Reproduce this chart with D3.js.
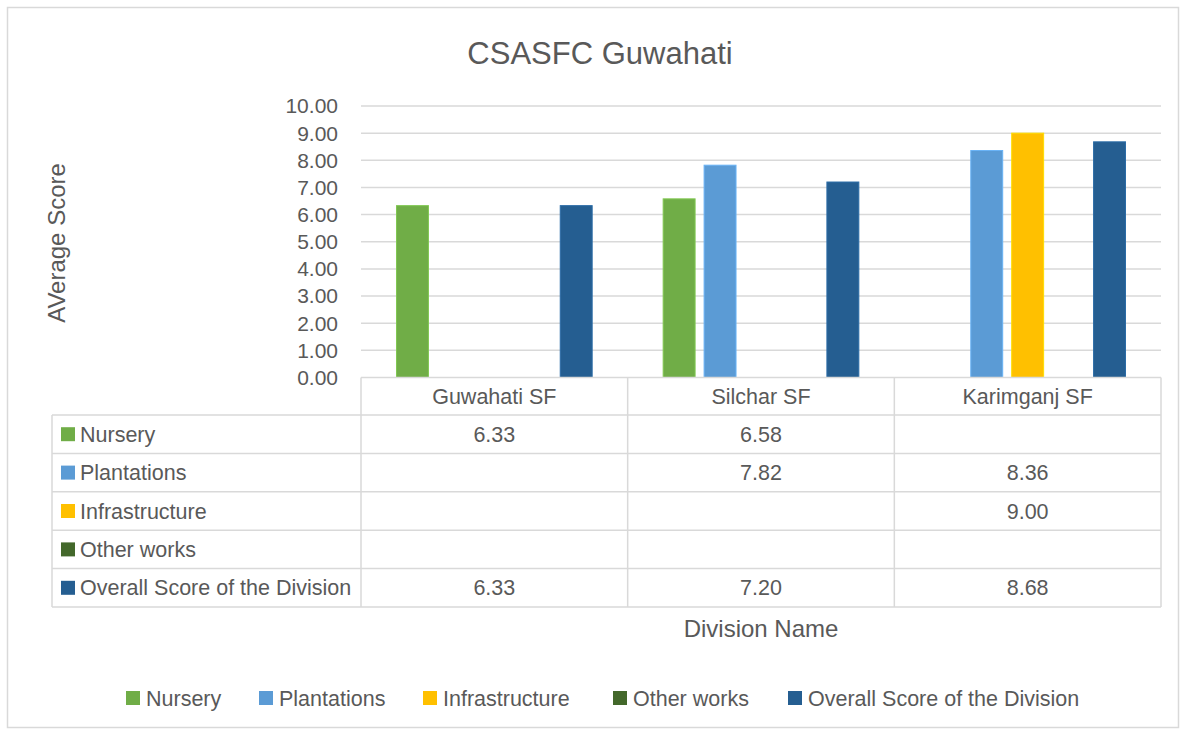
<!DOCTYPE html>
<html>
<head>
<meta charset="utf-8">
<script src="https://cdn.jsdelivr.net/npm/d3@7"></script>
<style>
  body { margin: 0; background: #fff; }
  svg text { font-family: "Liberation Sans", Arial, sans-serif; fill: #595959; }
</style>
</head>
<body>
<svg id="chart"></svg>
<script>
var divisions = ['Guwahati SF', 'Silchar SF', 'Karimganj SF'];
var seriesNames = ['Nursery', 'Plantations', 'Infrastructure', 'Other works', 'Overall Score of the Division'];
var seriesColors = ['#70AD47', '#5B9BD5', '#FFC000', '#43682B', '#255E91'];
var nursery = [6.33, 6.58, null];
var plantations = [null, 7.82, 8.36];
var infrastructure = [null, null, 9.00];
var otherWorks = [null, null, null];
var overall = [6.33, 7.20, 8.68];
var yTicks = [0, 1, 2, 3, 4, 5, 6, 7, 8, 9, 10];

var seriesValues = [nursery, plantations, infrastructure, otherWorks, overall];

var width = 1186;
var height = 734;
var labelSize = '21.5px';

var svg = d3.select('#chart')
  .attr('width', width)
  .attr('height', height);

// outer chart border
svg.append('rect')
  .attr('x', 7.5).attr('y', 7.5)
  .attr('width', 1171).attr('height', 720)
  .attr('fill', '#fff')
  .attr('stroke', '#D9D9D9')
  .attr('stroke-width', 1.5);

var plotLeft = 361, plotRight = 1161;
var plotTop = 106, plotBottom = 377.5;

var xScale = d3.scaleBand()
  .domain(divisions)
  .range([plotLeft, plotRight]);

var seriesScale = d3.scaleBand()
  .domain(seriesNames)
  .range([35.5, xScale.bandwidth() - 35.5])
  .paddingInner(0.22);

var yScale = d3.scaleLinear()
  .domain([0, 10])
  .range([plotBottom, plotTop]);

// title
svg.append('text')
  .attr('x', 600).attr('y', 64)
  .attr('text-anchor', 'middle')
  .style('font-size', '31px')
  .text('CSASFC Guwahati');

// gridlines
svg.append('g')
  .selectAll('line')
  .data(yTicks.slice(1))
  .enter().append('line')
    .attr('x1', plotLeft).attr('x2', plotRight)
    .attr('y1', function(d) { return yScale(d); })
    .attr('y2', function(d) { return yScale(d); })
    .attr('stroke', '#D9D9D9')
    .attr('stroke-width', 1.5);

// y tick labels
svg.append('g')
  .selectAll('text')
  .data(yTicks)
  .enter().append('text')
    .attr('x', 338)
    .attr('y', function(d) { return yScale(d); })
    .attr('dy', '0.35em')
    .attr('text-anchor', 'end')
    .style('font-size', '21px')
    .text(function(d) { return d3.format('.2f')(d); });

// bars
var barData = [];
for (var s = 0; s < seriesNames.length; s++) {
  for (var c = 0; c < divisions.length; c++) {
    if (seriesValues[s][c] != null) {
      barData.push({ division: divisions[c], series: seriesNames[s], value: seriesValues[s][c], color: seriesColors[s] });
    }
  }
}

svg.append('g')
  .selectAll('rect')
  .data(barData)
  .enter().append('rect')
    .attr('x', function(d) { return xScale(d.division) + seriesScale(d.series); })
    .attr('y', function(d) { return yScale(d.value); })
    .attr('width', seriesScale.bandwidth())
    .attr('height', function(d) { return plotBottom - yScale(d.value); })
    .attr('fill', function(d) { return d.color; })
    .attr('stroke', function(d) { return d3.color(d.color).brighter(0.4); })
    .attr('stroke-width', 1);

// data table
var tableLeft = 52;
var headerTop = plotBottom;
var rowTop = 415;
var rowH = 38.4;
var tableBottom = rowTop + rowH * seriesNames.length;
var grid = svg.append('g')
  .attr('stroke', '#D9D9D9')
  .attr('stroke-width', 1.5);

// header row line
grid.append('line').attr('x1', plotLeft).attr('x2', plotRight).attr('y1', headerTop).attr('y2', headerTop);
// row lines
for (var r = 0; r <= seriesNames.length; r++) {
  var yy = rowTop + r * rowH;
  grid.append('line').attr('x1', tableLeft).attr('x2', plotRight).attr('y1', yy).attr('y2', yy);
}
// vertical lines
grid.append('line').attr('x1', tableLeft).attr('x2', tableLeft).attr('y1', rowTop).attr('y2', tableBottom);
var colEdges = divisions.map(function(d) { return xScale(d); }).concat([plotRight]);
colEdges.forEach(function(x) {
  grid.append('line').attr('x1', x).attr('x2', x).attr('y1', headerTop).attr('y2', tableBottom);
});

// header labels
svg.append('g')
  .selectAll('text')
  .data(divisions)
  .enter().append('text')
    .attr('x', function(d) { return xScale(d) + xScale.bandwidth() / 2; })
    .attr('y', headerTop + rowH / 2)
    .attr('dy', '0.35em')
    .attr('text-anchor', 'middle')
    .style('font-size', labelSize)
    .text(function(d) { return d; });

// row labels with keys
var rows = svg.append('g')
  .selectAll('g')
  .data(seriesNames)
  .enter().append('g')
    .attr('transform', function(d, i) { return 'translate(0,' + (rowTop + i * rowH + rowH / 2) + ')'; });

rows.append('rect')
  .attr('x', 61).attr('y', -7)
  .attr('width', 14).attr('height', 14)
  .attr('fill', function(d, i) { return seriesColors[i]; });

rows.append('text')
  .attr('x', 80)
  .attr('dy', '0.35em')
  .style('font-size', labelSize)
  .text(function(d) { return d; });

rows.each(function(d, i) {
  d3.select(this).selectAll('text.val')
    .data(seriesValues[i])
    .enter().append('text')
      .attr('class', 'val')
      .attr('x', function(v, c) { return xScale(divisions[c]) + xScale.bandwidth() / 2; })
      .attr('dy', '0.35em')
      .attr('text-anchor', 'middle')
      .style('font-size', labelSize)
      .text(function(v) { return v == null ? '' : d3.format('.2f')(v); });
});

// axis titles
svg.append('text')
  .attr('transform', 'translate(65,243) rotate(-90)')
  .attr('text-anchor', 'middle')
  .style('font-size', '24px')
  .text('AVerage Score');

svg.append('text')
  .attr('x', 761).attr('y', 637)
  .attr('text-anchor', 'middle')
  .style('font-size', '24px')
  .text('Division Name');

// legend
var legendX = [126, 259, 423, 613, 788];
var legend = svg.append('g')
  .selectAll('g')
  .data(seriesNames)
  .enter().append('g')
    .attr('transform', function(d, i) { return 'translate(' + legendX[i] + ',698)'; });

legend.append('rect')
  .attr('x', 0).attr('y', -7)
  .attr('width', 14).attr('height', 14)
  .attr('fill', function(d, i) { return seriesColors[i]; });

legend.append('text')
  .attr('x', 20)
  .attr('dy', '0.35em')
  .style('font-size', labelSize)
  .text(function(d) { return d; });
</script>
</body>
</html>
